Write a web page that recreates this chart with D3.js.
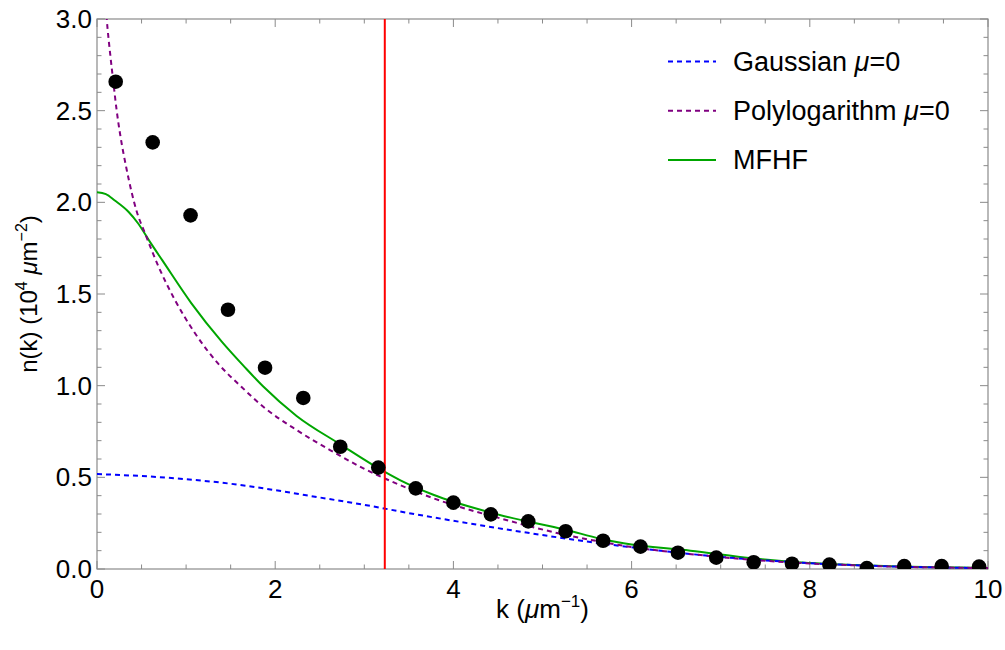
<!DOCTYPE html>
<html>
<head>
<meta charset="utf-8">
<script src="https://cdn.jsdelivr.net/npm/d3@7"></script>
<style>
  html, body { margin: 0; padding: 0; background: #fff; }
  svg text { font-family: "Liberation Sans", Arial, sans-serif; fill: #000; }
</style>
</head>
<body>
<svg id="chart" width="1005" height="650"></svg>
<script>
// Measured momentum distribution (points)
const dataK = [0.21, 0.625, 1.05, 1.47, 1.886, 2.315, 2.73, 3.157, 3.577, 4.0, 4.42, 4.84,
               5.26, 5.68, 6.1, 6.52, 6.95, 7.37, 7.8, 8.22, 8.64, 9.06, 9.48, 9.9];
const dataN = [2.658, 2.327, 1.929, 1.414, 1.098, 0.933, 0.667, 0.553, 0.44, 0.362, 0.298, 0.26,
               0.206, 0.154, 0.122, 0.089, 0.062, 0.037, 0.029, 0.024, 0.005, 0.016, 0.016, 0.013];

// Gaussian, mu = 0
const gaussK = [0, 0.5, 1, 1.5, 2, 2.5, 3, 3.5, 4, 4.5, 5, 5.5, 6, 6.5, 7, 7.5, 8, 8.5, 9, 9.5, 10];
const gaussN = [0.518, 0.507, 0.49, 0.465, 0.43, 0.39, 0.35, 0.305, 0.263, 0.223, 0.185, 0.15,
                0.118, 0.09, 0.066, 0.047, 0.032, 0.021, 0.013, 0.008, 0.005];

// Polylogarithm, mu = 0
const polyK = [0.09, 0.109, 0.15, 0.183, 0.221, 0.26, 0.33, 0.446, 0.54, 0.69, 0.875, 1.1, 1.36,
               1.62, 1.866, 2.24, 2.615, 2.99, 3.4, 3.775, 4.52, 5.27, 5.65, 6, 6.5, 7, 7.5, 8,
               8.5, 9, 9.5, 10];
const polyN = [3.12, 3.0, 2.8, 2.658, 2.5, 2.37, 2.186, 1.95, 1.83, 1.65, 1.467, 1.286, 1.12,
               0.994, 0.885, 0.758, 0.649, 0.549, 0.458, 0.386, 0.277, 0.185, 0.149, 0.12, 0.09,
               0.065, 0.045, 0.03, 0.02, 0.012, 0.008, 0.005];

// MFHF
const mfhfK = [0, 0.1, 0.2, 0.35, 0.46, 0.6, 0.73, 1.06, 1.4, 1.66, 1.866, 2.24, 2.73, 3.21, 3.4,
               3.775, 4.52, 5.27, 5.65, 5.91, 6.66, 7.4, 7.78, 8.5, 9, 9.5, 10];
const mfhfN = [2.055, 2.045, 2.01, 1.95, 1.886, 1.78, 1.686, 1.449, 1.24, 1.10, 0.995, 0.835,
               0.68, 0.535, 0.485, 0.405, 0.295, 0.213, 0.165, 0.14, 0.1, 0.056, 0.04, 0.022,
               0.014, 0.009, 0.005];

// Vertical marker position
const markerK = 3.23;

const xMajor = [0, 2, 4, 6, 8, 10];
const yMajor = [0, 0.5, 1.0, 1.5, 2.0, 2.5, 3.0];

const legendItems = [
  { name: "Gaussian", mu: true, color: "#0000ff", dash: "5,4" },
  { name: "Polylogarithm", mu: true, color: "#800080", dash: "5,4" },
  { name: "MFHF", mu: false, color: "#00a600", dash: null }
];

const svg = d3.select("#chart");
const L = 97, R = 988, T = 19, B = 569;

const x = d3.scaleLinear().domain([0, 10]).range([L, R]);
const y = d3.scaleLinear().domain([0, 3]).range([B, T]);

svg.append("defs").append("clipPath").attr("id", "plotClip")
  .append("rect").attr("x", L).attr("y", T).attr("width", R - L).attr("height", B - T);

const frameColor = "#8a8a8a";

// Frame with inward ticks on all four sides
const xMinor = d3.range(0, 10.001, 0.5);
const yMinor = d3.range(0, 3.001, 0.1);
const isMajorX = v => xMajor.some(m => Math.abs(m - v) < 1e-6);
const isMajorY = v => yMajor.some(m => Math.abs(m - v) < 1e-6);

const frame = svg.append("g");
frame.append("rect").attr("x", L).attr("y", T).attr("width", R - L).attr("height", B - T)
  .attr("fill", "none").attr("stroke", frameColor).attr("stroke-width", 1.2);

xMinor.forEach(v => {
  const len = isMajorX(v) ? 8 : 4.5;
  frame.append("line").attr("x1", x(v)).attr("x2", x(v)).attr("y1", B).attr("y2", B - len)
    .attr("stroke", frameColor).attr("stroke-width", 1);
  frame.append("line").attr("x1", x(v)).attr("x2", x(v)).attr("y1", T).attr("y2", T + len)
    .attr("stroke", frameColor).attr("stroke-width", 1);
});
yMinor.forEach(v => {
  const len = isMajorY(v) ? 8 : 4.5;
  frame.append("line").attr("x1", L).attr("x2", L + len).attr("y1", y(v)).attr("y2", y(v))
    .attr("stroke", frameColor).attr("stroke-width", 1);
  frame.append("line").attr("x1", R).attr("x2", R - len).attr("y1", y(v)).attr("y2", y(v))
    .attr("stroke", frameColor).attr("stroke-width", 1);
});

// Tick labels
svg.append("g").selectAll("text").data(xMajor).join("text")
  .attr("x", d => x(d)).attr("y", 598).attr("text-anchor", "middle")
  .attr("font-size", 26).text(d => d);
svg.append("g").selectAll("text").data(yMajor).join("text")
  .attr("x", 92).attr("y", d => y(d)).attr("text-anchor", "end")
  .attr("dominant-baseline", "central").attr("font-size", 26).text(d => d.toFixed(1));

// Axis titles
const xt = svg.append("text").attr("x", (L + R) / 2).attr("y", 618)
  .attr("text-anchor", "middle").attr("font-size", 26);
xt.append("tspan").text("k (");
xt.append("tspan").attr("font-style", "italic").text("μ");
xt.append("tspan").text("m");
xt.append("tspan").attr("font-size", 17).attr("dy", -11).text("−1");
xt.append("tspan").attr("dy", 11).text(")");

const yt = svg.append("text")
  .attr("transform", `translate(37,${(T + B) / 2}) rotate(-90)`)
  .attr("text-anchor", "middle").attr("font-size", 24);
yt.append("tspan").text("n(k) (10");
yt.append("tspan").attr("font-size", 16).attr("dy", -10).text("4");
yt.append("tspan").attr("dy", 10).text(" ");
yt.append("tspan").attr("font-style", "italic").text("μ");
yt.append("tspan").text("m");
yt.append("tspan").attr("font-size", 16).attr("dy", -10).text("−2");
yt.append("tspan").attr("dy", 10).text(")");

// Curves
const plot = svg.append("g").attr("clip-path", "url(#plotClip)");
const line = d3.line().x(d => x(d[0])).y(d => y(d[1])).curve(d3.curveMonotoneX);

const series = [
  { k: mfhfK, n: mfhfN, color: "#00a600", dash: null },
  { k: gaussK, n: gaussN, color: "#0000ff", dash: "5,4" },
  { k: polyK, n: polyN, color: "#800080", dash: "5,4" }
];
series.forEach(s => {
  plot.append("path").datum(d3.zip(s.k, s.n))
    .attr("d", line).attr("fill", "none")
    .attr("stroke", s.color).attr("stroke-width", 2)
    .attr("stroke-dasharray", s.dash);
});

// Vertical marker
plot.append("line").attr("x1", x(markerK)).attr("x2", x(markerK))
  .attr("y1", T).attr("y2", B).attr("stroke", "#ff0000").attr("stroke-width", 2);

// Data points
plot.append("g").selectAll("circle").data(d3.zip(dataK, dataN)).join("circle")
  .attr("cx", d => x(d[0])).attr("cy", d => y(d[1])).attr("r", 7.3).attr("fill", "#000");

// Legend
const lg = svg.append("g");
legendItems.forEach((it, i) => {
  const ly = 61.5 + i * 49.2;
  lg.append("line").attr("x1", 668).attr("x2", 716).attr("y1", ly).attr("y2", ly)
    .attr("stroke", it.color).attr("stroke-width", 2).attr("stroke-dasharray", it.dash);
  const t = lg.append("text").attr("x", 733).attr("y", ly).attr("dominant-baseline", "central")
    .attr("font-size", 27);
  t.append("tspan").text(it.name + (it.mu ? " " : ""));
  if (it.mu) {
    t.append("tspan").attr("font-style", "italic").text("μ");
    t.append("tspan").text("=0");
  }
});
</script>
</body>
</html>
